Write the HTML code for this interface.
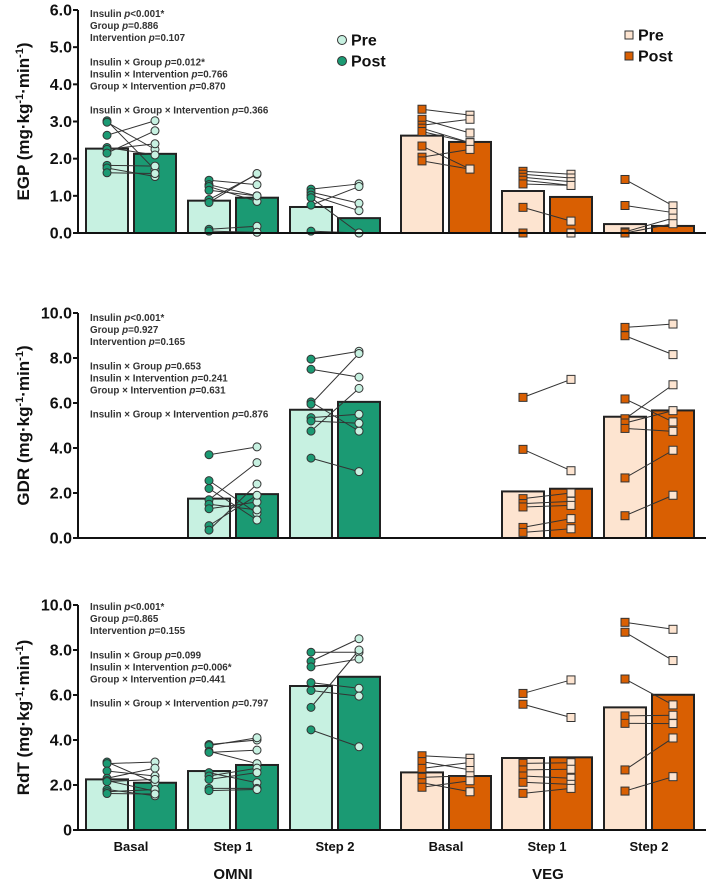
<!DOCTYPE html>
<html><head><meta charset="utf-8">
<style>
html,body{margin:0;padding:0;background:#fff;}
svg{display:block;font-family:"Liberation Sans",Arial,sans-serif;}
</style></head>
<body>
<svg id="chart" width="709" height="884" viewBox="0 0 709 884" xmlns="http://www.w3.org/2000/svg"></svg>
<script>
// ---- data ----
const categories = ["Basal","Step 1","Step 2","Basal","Step 1","Step 2"];
const groupLabels = ["OMNI","VEG"];
// EGP
const egpPreMean  = [2.27,0.87,0.70,2.62,1.13,0.24];
const egpPostMean = [2.13,0.95,0.40,2.45,0.97,0.19];
const egpPrePts = [[3.02,2.98,2.63,2.30,2.25,2.15,1.82,1.75,1.62],[1.42,1.30,1.25,1.15,0.90,0.82,0.10,0.05],[1.18,1.10,1.02,0.95,0.75,0.05],
  [3.33,3.06,2.90,2.82,2.73,2.34,2.04,1.94],[1.66,1.58,1.50,1.42,1.32,0.69,0.00],[1.44,0.74,0.03,0.00]];
const egpPostPts = [[1.70,2.25,3.02,2.10,2.40,2.75,1.80,1.52,1.60],[1.30,1.00,0.85,1.00,1.58,1.60,0.18,0.02],[1.32,0.80,0.60,0.00,1.25,0.00],
  [3.17,2.69,3.06,2.43,2.43,1.72,2.25,1.72],[1.58,1.48,1.38,1.28,1.28,0.32,0.00],[0.73,0.55,0.40,0.25]];
// GDR
const gdrPreMean  = [0,1.75,5.70,0,2.07,5.39];
const gdrPostMean = [0,1.95,6.05,0,2.19,5.67];
const gdrPrePts = [[],[3.70,2.55,2.20,1.70,1.50,1.30,0.55,0.35],[7.95,7.50,6.05,5.95,5.35,5.20,4.75,3.55],
  [],[6.25,3.94,1.75,1.53,1.38,0.47,0.25],[9.36,8.99,6.18,5.30,5.11,4.87,2.67,0.99]];
const gdrPostPts = [[],[4.05,1.10,0.80,3.35,1.25,1.60,1.90,2.40],[8.30,7.15,4.75,8.20,5.50,5.10,6.65,2.95],
  [],[7.05,2.99,2.00,1.63,1.45,0.86,0.41],[9.51,8.15,5.16,6.81,5.66,4.74,3.90,1.90]];
// RdT
const rdtPreMean  = [2.25,2.62,6.40,2.56,3.20,5.45];
const rdtPostMean = [2.10,2.89,6.81,2.40,3.23,6.01];
const rdtPrePts = [[3.02,2.95,2.62,2.30,2.20,2.15,1.80,1.70,1.62],[3.80,3.75,3.50,3.45,2.55,2.40,2.25,1.85,1.75],[7.90,7.50,7.25,6.55,6.20,5.45,4.45],
  [3.30,3.04,2.74,2.34,2.10,1.90],[6.07,5.59,2.96,2.67,2.40,2.12,1.63],[9.23,8.79,6.71,5.07,4.74,2.67,1.73]];
const rdtPostPts = [[2.10,3.02,2.40,2.75,1.72,2.25,1.52,1.80,1.60],[4.00,4.10,2.95,3.55,2.10,2.75,2.55,1.85,1.80],[7.90,8.50,7.60,6.30,5.95,8.00,3.70],
  [3.19,2.67,3.00,2.41,1.70,2.19],[6.67,5.00,2.99,2.70,2.30,2.03,1.85],[8.92,7.53,5.56,5.10,4.73,4.09,2.37]];
const egpTicks = ["0.0","1.0","2.0","3.0","4.0","5.0","6.0"];
const gdrTicks = ["0.0","2.0","4.0","6.0","8.0","10.0"];
const rdtTicks = ["0","2.0","4.0","6.0","8.0","10.0"];
const egpStats = [["Insulin ","<0.001*"],["Group ","=0.886"],["Intervention ","=0.107"],null,["Insulin × Group ","=0.012*"],["Insulin × Intervention ","=0.766"],["Group × Intervention ","=0.870"],null,["Insulin × Group × Intervention ","=0.366"]];
const gdrStats = [["Insulin ","<0.001*"],["Group ","=0.927"],["Intervention ","=0.165"],null,["Insulin × Group ","=0.653"],["Insulin × Intervention ","=0.241"],["Group × Intervention ","=0.631"],null,["Insulin × Group × Intervention ","=0.876"]];
const rdtStats = [["Insulin ","<0.001*"],["Group ","=0.865"],["Intervention ","=0.155"],null,["Insulin × Group ","=0.099"],["Insulin × Intervention ","=0.006*"],["Group × Intervention ","=0.441"],null,["Insulin × Group × Intervention ","=0.797"]];

// ---- layout ----
const NS="http://www.w3.org/2000/svg";
const svg=document.getElementById('chart');
const groupLeft=[86,188,290,401,502,604];
const BW=42, GAP=6, AX=78, AXEND=706;
const C={lg:"#c7f1e1",dg:"#1b9a73",lo:"#fde4d0",do:"#d95f02"};
function el(tag,attrs,parent){const e=document.createElementNS(NS,tag);for(const k in attrs)e.setAttribute(k,attrs[k]);(parent||svg).appendChild(e);return e;}

function panel(name,top,base,max,ticks,preM,postM,preP,postP,yLabel,stats,statY){
  const g=el('g',{});
  
  
  const y=v=>base-(v/max)*(base-top);
  for(let i=0;i<6;i++){
    const omni=i<3;
    const x1=groupLeft[i], x2=x1+BW+GAP;
    const b1=el('rect',{x:x1,y:y(preM[i]),width:BW,height:base-y(preM[i]),fill:omni?C.lg:C.lo,stroke:"#222","stroke-width":2},g);
    
    
    const b2=el('rect',{x:x2,y:y(postM[i]),width:BW,height:base-y(postM[i]),fill:omni?C.dg:C.do,stroke:"#222","stroke-width":2},g);
    
    
  }
  for(let i=0;i<6;i++){
    const omni=i<3;
    const cx1=groupLeft[i]+BW/2, cx2=groupLeft[i]+BW+GAP+BW/2;
    const pre=preP[i], post=postP[i];
    const n=Math.min(pre.length,post.length);
    for(let k=0;k<n;k++){
      const l=el('line',{x1:cx1,y1:y(pre[k]),x2:cx2,y2:y(post[k]),stroke:"#333","stroke-width":1},g);
      
      
    }
    const mk=(cx,v,fill)=>{
      let m;
      if(omni) m=el('circle',{cx:cx,cy:y(v),r:4,fill:fill,stroke:"#333","stroke-width":1},g);
      else m=el('rect',{x:cx-4,y:y(v)-4,width:8,height:8,fill:fill,stroke:"#333","stroke-width":1},g);
      
      
    };
    pre.forEach(v=>mk(cx1,v,omni?C.dg:C.do));
    post.forEach(v=>mk(cx2,v,omni?C.lg:C.lo));
  }
  const ya=el('line',{x1:AX,y1:top,x2:AX,y2:base+1,stroke:"#111","stroke-width":2},g);
  
  
  const xa=el('line',{x1:AX-1,y1:base,x2:AXEND,y2:base,stroke:"#111","stroke-width":2},g);
  
  
  const step=max/(ticks.length-1);
  ticks.forEach((t,j)=>{
    const ty=y(j*step);
    el('line',{x1:AX-5,y1:ty,x2:AX,y2:ty,stroke:"#111","stroke-width":2},g);
    const tx=el('text',{x:AX-6,y:ty+5.5,"text-anchor":"end","font-size":16,"font-weight":"bold",fill:"#111"},g);
    tx.textContent=t;
    
    
  });
  const mid=(top+base)/2;
  const yl=el('text',{x:0,y:0,transform:`translate(29,${mid}) rotate(-90)`,"text-anchor":"middle","font-size":17,"font-weight":"bold",fill:"#111"},g);
  yl.innerHTML=yLabel;
  
  
  let sy=statY;
  stats.forEach(s=>{
    if(!s){sy+=12.3;return;}
    const t=el('text',{x:90,y:sy,"font-size":9.8,"font-weight":"bold",fill:"#333"},g);
    t.innerHTML=s[0]+'<tspan font-style="italic">p</tspan>'+s[1];
    
    
    sy+=12;
  });
}
const unit='(mg·kg<tspan dy="-6" font-size="11">-1</tspan><tspan dy="6">·min</tspan><tspan dy="-6" font-size="11">-1</tspan><tspan dy="6">)</tspan>';
panel('egp',10,233,6,egpTicks,egpPreMean,egpPostMean,egpPrePts,egpPostPts,'EGP '+unit,egpStats,17);
panel('gdr',313,538,10,gdrTicks,gdrPreMean,gdrPostMean,gdrPrePts,gdrPostPts,'GDR '+unit,gdrStats,321);
panel('rdt',605,830,10,rdtTicks,rdtPreMean,rdtPostMean,rdtPrePts,rdtPostPts,'RdT '+unit,rdtStats,610);

function legendEntry(shape,x,y,fill,label,nm){
  const g=el('g',{});
  
  
  if(shape==='c') el('circle',{cx:x,cy:y,r:4.5,fill:fill,stroke:"#333","stroke-width":1},g);
  else el('rect',{x:x-4,y:y-4,width:8,height:8,fill:fill,stroke:"#333","stroke-width":1},g);
  const t=el('text',{x:x+9,y:y+5.5,"font-size":16,"font-weight":"bold",fill:"#111"},g);
  t.textContent=label;
}
legendEntry('c',342,40,C.lg,'Pre','legend-omni-pre');
legendEntry('c',342,61,C.dg,'Post','legend-omni-post');
legendEntry('s',629,35,C.lo,'Pre','legend-veg-pre');
legendEntry('s',629,56,C.do,'Post','legend-veg-post');

categories.forEach((c,i)=>{
  const t=el('text',{x:groupLeft[i]+BW+GAP/2,y:851,"text-anchor":"middle","font-size":13,"font-weight":"bold",fill:"#111"});
  t.textContent=c;
  
  
});
groupLabels.forEach((gname,j)=>{
  const t=el('text',{x:j===0?233:548,y:879,"text-anchor":"middle","font-size":15,"font-weight":"bold",fill:"#111"});
  t.textContent=gname;
  
  
});
</script>
</body></html>
